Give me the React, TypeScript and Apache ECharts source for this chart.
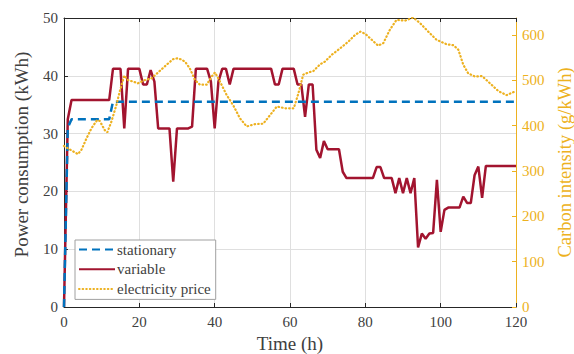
import React, { useEffect, useRef } from "react";
import * as echarts from "echarts";

const xTicks = [0, 20, 40, 60, 80, 100, 120];
const leftTicks = [0, 10, 20, 30, 40, 50];
const rightTicks = [0, 100, 200, 300, 400, 500, 600];

const stationary: [number, number][] = [
  [0, 0], [1, 31], [2, 32.5], [12, 32.5], [13, 35.5], [120, 35.5],
];

const variable: [number, number][] = [
  [0, 0], [1, 32.5], [2, 35.8], [12, 35.8], [13, 41.2], [15, 41.2], [16, 30.9], [17, 41.2],
  [20, 41.2], [21, 38.5], [22, 38.5], [23, 41.0], [24, 39], [25, 30.9], [28, 30.9], [29, 21.7],
  [30, 30.9], [33, 30.9], [34, 31.2], [35, 41.2], [38, 41.2], [39, 39], [40, 30.9], [41, 39],
  [42, 41.2], [43, 41.2], [44, 38.5], [45, 41.2], [55, 41.2], [56, 38.5], [57, 38.5], [58, 41.2],
  [61, 41.2], [62, 38.5], [63, 38.5], [64, 32.9], [65, 38.5], [66, 38.5], [67, 27.2], [68, 25.8],
  [69, 28.7], [70, 27.3], [73, 27.3], [74, 23.4], [75, 22.3], [82, 22.3], [83, 24.2], [84, 24.2],
  [85, 22.3], [87, 22.3], [88, 19.7], [89, 22.3], [90, 19.7], [91, 22.3], [92, 19.7], [93, 22.3],
  [94, 10.3], [95, 12.7], [96, 11.8], [97, 12.7], [98, 12.8], [99, 22.0], [100, 13.0], [101, 16.8],
  [102, 17.2], [105, 17.2], [106, 19.1], [107, 18.0], [108, 18.0], [109, 22.8], [110, 24.3],
  [111, 18.9], [112, 24.4], [120, 24.4],
];

const price: [number, number][] = [
  [0, 355], [2, 345], [3.7, 337], [4.6, 346], [6, 372], [7.3, 394], [8.8, 412], [9.5, 410],
  [10.8, 390], [11.5, 385], [12.6, 409], [13.9, 445], [14.8, 475], [16, 510], [17, 500],
  [18.3, 497], [19.6, 493], [21.4, 500], [23.2, 504], [25, 517], [26.7, 530], [28.9, 546],
  [30, 548], [31, 546], [32.1, 541], [33.4, 526], [34.8, 500], [36.1, 490], [37.9, 490],
  [39.2, 508], [40.1, 517], [41.4, 497], [43.2, 467], [44.9, 445], [46.7, 416], [48.5, 398],
  [50.7, 403], [52.9, 404], [55.1, 427], [56.5, 442], [58.7, 438], [61, 438], [62.2, 470],
  [63.5, 512], [64.9, 517], [66.2, 520], [68, 535], [69.3, 541], [71.1, 556], [73.3, 570],
  [75.5, 585], [77.3, 600], [78.7, 607], [80, 602], [81.7, 589], [83.4, 576], [84.8, 582],
  [86.5, 611], [88.3, 633], [90.5, 631], [92.7, 638], [94.5, 626], [96.7, 607], [98.9, 589],
  [101.6, 579], [103.4, 577], [104.7, 567], [106, 534], [107.3, 515], [109.1, 508], [111, 509],
  [113.1, 493], [115.3, 476], [117.5, 467], [119.7, 475],
];

const FONT = "Liberation Serif";
const DARK = "#262626";
const TEXT = "#404040";
const ORANGE = "#EDB120";
const RED = "#A2142F";
const BLUE = "#0072BD";

export default function App() {
  const ref = useRef<HTMLDivElement>(null);
  useEffect(() => {
    if (!ref.current) return;
    document.body.style.margin = "0";
    const chart = echarts.init(ref.current, undefined, { renderer: "svg" });
    chart.setOption({
      animation: false,
      backgroundColor: "#ffffff",
      textStyle: { fontFamily: FONT },
      grid: {
        left: 64, right: 58, top: 18, bottom: 47,
        containLabel: false,
        outerBoundsMode: "none",
      },
      legend: {
        data: ["stationary", "variable", "electricity price"],
        orient: "vertical",
        left: 75,
        top: 240,
        itemWidth: 36,
        itemHeight: 14,
        itemGap: 4.7,
        padding: [2, 5, 3, 3],
        backgroundColor: "#ffffff",
        borderColor: "#a0a0a0",
        borderWidth: 1,
        borderRadius: 0,
        itemStyle: { opacity: 0 },
        textStyle: { fontFamily: FONT, fontSize: 15, color: TEXT, padding: [0, 0, 0, -3] },
      },
      xAxis: [
        {
          type: "value",
          position: "bottom",
          min: 0,
          max: 120,
          interval: 20,
          name: "Time (h)",
          nameLocation: "middle",
          nameGap: 26,
          nameTextStyle: { fontFamily: FONT, fontSize: 19, color: TEXT },
          axisLine: { show: true, onZero: false, lineStyle: { color: DARK, width: 1 } },
          axisTick: { show: true, inside: true, length: 4, lineStyle: { color: DARK } },
          axisLabel: { fontFamily: FONT, fontSize: 15, color: TEXT, margin: 7, customValues: xTicks },
          splitLine: { show: true, lineStyle: { color: "#dfdfdf", width: 1 } },
        },
        {
          type: "value",
          position: "top",
          min: 0,
          max: 120,
          interval: 20,
          axisLine: { show: true, onZero: false, lineStyle: { color: DARK, width: 1 } },
          axisTick: { show: true, inside: true, length: 4, lineStyle: { color: DARK } },
          axisLabel: { show: false },
          splitLine: { show: false },
        },
      ],
      yAxis: [
        {
          type: "value",
          position: "left",
          min: 0,
          max: 50,
          interval: 10,
          name: "Power consumption (kWh)",
          nameLocation: "middle",
          nameGap: 33,
          nameTextStyle: { fontFamily: FONT, fontSize: 19, color: TEXT, padding: [0, 0, 0, 16] },
          axisLine: { show: true, onZero: false, lineStyle: { color: DARK, width: 1 } },
          axisTick: { show: true, inside: true, length: 4, lineStyle: { color: DARK } },
          axisLabel: { fontFamily: FONT, fontSize: 15, color: TEXT, margin: 6, customValues: leftTicks },
          splitLine: { show: true, lineStyle: { color: "#dfdfdf", width: 1 } },
        },
        {
          type: "value",
          position: "right",
          min: 0,
          max: 637,
          name: "Carbon intensity (g/kWh)",
          nameLocation: "middle",
          nameGap: 34,
          nameTextStyle: { fontFamily: FONT, fontSize: 18.5, color: ORANGE, lineHeight: 20 },
          axisLine: { show: true, onZero: false, lineStyle: { color: ORANGE, width: 1 } },
          axisTick: { show: true, inside: true, length: 4, lineStyle: { color: ORANGE }, customValues: rightTicks },
          axisLabel: { fontFamily: FONT, fontSize: 15, color: ORANGE, margin: 6, customValues: rightTicks },
          splitLine: { show: false },
        },
      ],
      series: [
        {
          name: "variable",
          type: "line",
          xAxisIndex: 0,
          yAxisIndex: 0,
          data: variable,
          symbol: "none",
          color: RED,
          lineStyle: { color: RED, width: 2.5 },
          z: 3,
        },
        {
          name: "stationary",
          type: "line",
          xAxisIndex: 0,
          yAxisIndex: 0,
          data: stationary,
          symbol: "none",
          color: BLUE,
          lineStyle: { color: BLUE, width: 2.5, type: [8, 5] },
          z: 4,
        },
        {
          name: "electricity price",
          type: "line",
          xAxisIndex: 0,
          yAxisIndex: 1,
          data: price,
          symbol: "none",
          color: ORANGE,
          lineStyle: { color: ORANGE, width: 2.2, type: [0.6, 3], cap: "round" },
          z: 5,
        },
      ],
    });
    return () => chart.dispose();
  }, []);
  return <div ref={ref} style={{ width: 574, height: 354 }} />;
}
